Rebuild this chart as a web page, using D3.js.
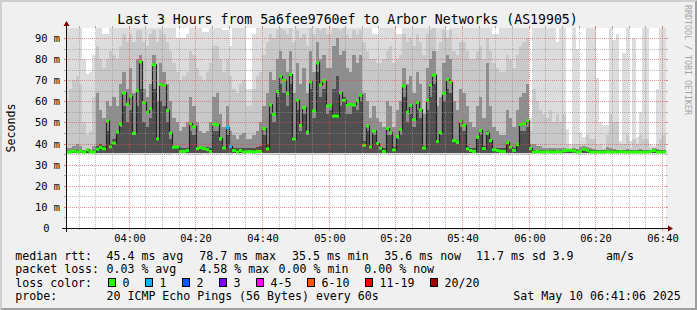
<!DOCTYPE html>
<html>
<head>
<meta charset="utf-8">
<script src="https://cdn.jsdelivr.net/npm/d3@7"></script>
<style>
  body { margin: 0; background: #f0f0f0; }
  svg { display: block; }
  text { font-family: "DejaVu Sans Mono", monospace; fill: #000; white-space: pre; }
</style>
</head>
<body>
<svg id="chart"></svg>
<script>
"use strict";

// One value per minute, starting 03:41 (ms)
const median = [
  36, 36, 36.4, 36, 36.4, 36, 37, 36, 36, 37.3,
  38.2, 37.5, 50.6, 38.5, 40.2, 45.4, 49.2, 64, 58.6, 62.4,
  44.8, 65, 78.7, 59.4, 54.8, 56.5, 77.3, 42.2, 68, 67.6,
  55.7, 44.9, 38.3, 38.3, 36.3, 36.3, 36.7, 49.4, 47.9, 37.6,
  38.1, 37.6, 37.1, 36.3, 49.2, 48.9, 42.4, 37.9, 47.5, 38.6,
  36.7, 36, 36.7, 36, 36.2, 36.2, 36, 36.3, 36.3, 47.1,
  37.5, 58.3, 53.8, 64.6, 71.9, 70, 63.7, 72.7, 42.2, 60.5,
  48.6, 57, 45.4, 69.2, 55.4, 78.2, 67.8, 69.7, 57.8, 58.1,
  53, 53, 64, 60.5, 58.1, 58.6, 58.3, 60.2, 62.9, 39.2,
  48.3, 38.4, 45.9, 40, 37.9, 36.3, 47.1, 45.1, 37, 43.3,
  46.7, 67.3, 54.8, 58.1, 51.4, 59.5, 56, 37.9, 60.5, 67.6,
  72.4, 41, 45.2, 63.8, 70.3, 69, 41.4, 40.8, 50.6, 48.6,
  37.5, 36.7, 36.3, 43, 46.2, 37.6, 44.8, 41.4, 37.1, 36.7,
  36.3, 36.3, 40.5, 38.3, 36.8, 39.5, 49, 49.4, 50.8, 37.6,
  36, 36.3, 36, 36, 36.2, 36, 36, 36.3, 36, 36.6,
  36.8, 36.8, 36.5, 36, 36.3, 37.3, 36.8, 36, 36, 36,
  36, 36, 36.2, 36, 36, 36, 36.3, 36, 36, 36,
  36, 36, 36, 36, 36, 36.3, 36.7, 36, 36, 36
];

// pings lost out of 20
const lossPings = [
  0, 0, 0, 0, 0, 0, 0, 0, 0, 0,
  0, 0, 0, 0, 0, 0, 0, 0, 0, 0,
  0, 0, 0, 0, 0, 0, 0, 0, 0, 0,
  0, 0, 0, 0, 0, 0, 0, 0, 0, 0,
  0, 0, 0, 0, 0, 0, 0, 0, 1, 1,
  0, 0, 0, 0, 0, 0, 0, 0, 0, 0,
  0, 0, 0, 0, 0, 0, 0, 0, 0, 0,
  0, 0, 0, 0, 0, 0, 0, 0, 0, 0,
  0, 0, 0, 0, 0, 0, 0, 0, 0, 0,
  0, 0, 0, 0, 0, 0, 0, 0, 0, 0,
  0, 0, 0, 0, 0, 0, 0, 0, 0, 0,
  0, 0, 0, 0, 0, 0, 0, 0, 0, 0,
  0, 0, 0, 0, 0, 0, 0, 0, 0, 0,
  0, 0, 0, 0, 0, 0, 0, 0, 0, 0,
  0, 0, 0, 0, 0, 0, 0, 0, 0, 0,
  0, 0, 0, 0, 0, 0, 0, 0, 0, 0,
  0, 0, 0, 0, 0, 0, 0, 0, 0, 0,
  0, 0, 0, 0, 0, 0, 0, 0, 0, 0
];

// smoke: lowest ping, then upper levels from lightest (max) to darkest
const smokeLow = [
  35.2, 35.2, 35.0, 35.2, 35.0, 35.2, 35.0, 35.2, 35.2, 34.8,
  34.8, 34.6, 34.6, 34.8, 34.6, 34.6, 34.4, 34.6, 34.6, 34.4,
  34.6, 34.6, 34.4, 34.6, 34.6, 34.4, 34.6, 34.6, 34.4, 34.6,
  34.6, 34.8, 35.0, 34.8, 35.0, 35.0, 34.8, 34.6, 34.6, 34.8,
  34.8, 35.0, 34.8, 35.0, 34.6, 34.6, 34.8, 35.0, 34.4, 34.6,
  35.0, 35.0, 34.8, 35.0, 35.0, 35.0, 35.0, 34.8, 34.8, 34.6,
  34.6, 34.4, 34.6, 34.4, 34.4, 34.6, 34.4, 34.4, 34.6, 34.4,
  34.6, 34.4, 34.6, 34.4, 34.6, 34.4, 34.4, 34.6, 34.4, 34.6,
  34.4, 34.4, 34.6, 34.4, 34.6, 34.6, 34.4, 34.6, 34.4, 34.6,
  34.6, 34.8, 34.6, 34.8, 34.8, 35.0, 34.6, 34.6, 34.8, 34.6,
  34.6, 34.4, 34.6, 34.4, 34.6, 34.4, 34.6, 34.8, 34.4, 34.4,
  34.4, 34.8, 34.6, 34.4, 34.4, 34.4, 34.8, 34.8, 34.6, 34.6,
  34.8, 35.0, 35.0, 34.6, 34.6, 34.8, 34.6, 34.8, 35.0, 35.0,
  35.0, 35.0, 34.8, 34.8, 35.0, 34.8, 34.6, 34.6, 34.6, 35.0,
  35.2, 35.2, 35.2, 35.0, 35.2, 35.2, 35.0, 35.2, 35.2, 35.0,
  35.0, 35.2, 35.2, 35.0, 34.8, 34.8, 35.0, 35.2, 35.2, 35.2,
  35.2, 35.2, 35.0, 35.0, 35.2, 35.2, 35.2, 35.2, 35.0, 35.2,
  35.2, 35.2, 35.0, 35.2, 35.2, 35.0, 34.8, 35.0, 35.2, 35.2
];

const smokeTop = [
  100, 100, 100, 100, 100, 80, 73, 74, 82, 100,
  100, 92, 92, 100, 100, 100, 100, 100, 100, 100,
  100, 100, 100, 100, 100, 100, 100, 100, 100, 100,
  100, 100, 100, 90, 90, 90, 92, 100, 100, 100,
  100, 93, 93, 100, 100, 100, 100, 94, 94, 86,
  100, 100, 100, 100, 66, 66, 92, 100, 100, 100,
  100, 100, 100, 100, 100, 100, 100, 100, 100, 100,
  100, 100, 100, 100, 100, 100, 100, 100, 100, 100,
  100, 100, 100, 100, 100, 100, 100, 100, 100, 100,
  100, 100, 92, 92, 100, 100, 100, 100, 100, 92,
  92, 100, 100, 100, 100, 100, 100, 100, 100, 100,
  100, 100, 100, 100, 94, 100, 100, 100, 100, 100,
  100, 100, 100, 100, 100, 100, 100, 100, 92, 92,
  100, 100, 100, 100, 100, 100, 95, 95, 95, 52,
  100, 100, 100, 100, 100, 100, 100, 88, 100, 100,
  47, 40, 100, 85, 45, 43, 100, 100, 100, 71,
  50, 49, 49, 100, 89, 92, 41, 83, 100, 41,
  90, 43, 55, 100, 100, 40, 39, 66, 100, 100
];

const smokeUp = [
  60, 66, 70, 72, 68, 50, 44, 46, 62, 86,
  80, 76, 80, 84, 82, 80, 86, 92, 88, 92,
  88, 94, 94, 88, 86, 92, 94, 88, 94, 92,
  88, 84, 78, 74, 70, 72, 74, 84, 82, 76,
  72, 70, 74, 78, 86, 86, 80, 74, 80, 72,
  66, 64, 68, 70, 58, 58, 66, 72, 74, 82,
  88, 92, 90, 94, 95, 94, 92, 95, 88, 94,
  90, 92, 86, 95, 92, 95, 94, 95, 92, 92,
  95, 95, 94, 95, 92, 90, 94, 92, 94, 88,
  84, 80, 80, 78, 78, 80, 84, 86, 78, 80,
  82, 92, 88, 90, 86, 92, 88, 82, 92, 94,
  95, 84, 88, 94, 90, 94, 84, 82, 88, 88,
  84, 80, 80, 84, 86, 80, 90, 84, 78, 76,
  74, 74, 82, 80, 76, 82, 86, 88, 90, 46,
  66, 60, 56, 54, 52, 56, 50, 54, 50, 54,
  40, 38, 40, 40, 40, 40, 44, 42, 42, 40,
  40, 38, 44, 54, 50, 50, 40, 40, 44, 38,
  42, 40, 44, 42, 42, 38, 38, 40, 42, 44
];

const smokeMid = [
  38, 38, 39, 40, 39, 37, 37, 37, 39, 64,
  56, 52, 60, 58, 62, 58, 68, 74, 66, 76,
  64, 80, 82, 66, 62, 68, 82, 60, 78, 74,
  68, 60, 52, 50, 46, 48, 50, 62, 58, 50,
  46, 45, 46, 50, 62, 64, 54, 48, 58, 46,
  44, 42, 44, 45, 42, 42, 44, 46, 50, 58,
  64, 74, 70, 80, 84, 80, 74, 84, 64, 78,
  68, 76, 64, 84, 74, 88, 80, 82, 76, 76,
  86, 90, 82, 84, 76, 74, 82, 78, 82, 64,
  60, 52, 58, 52, 50, 48, 60, 58, 48, 56,
  60, 76, 68, 72, 64, 74, 68, 54, 76, 80,
  84, 58, 62, 78, 82, 80, 60, 56, 66, 64,
  58, 50, 48, 58, 62, 52, 78, 58, 48, 46,
  44, 44, 56, 52, 48, 56, 62, 64, 68, 40,
  40, 39, 39, 38, 38, 38, 38, 38, 38, 38,
  37.5, 37, 38, 37.5, 38.5, 39, 38.5, 38, 37.5, 37,
  37, 37, 38.5, 38, 37.5, 37, 37, 37, 37.5, 37,
  37, 37, 37.5, 37, 37, 37, 38, 37.5, 37, 37
];

const smokeCore = [
  36.5, 36.5, 37, 37, 37, 36.5, 36.5, 36.5, 37, 39,
  40, 39, 46, 40, 42, 46, 48, 58, 50, 56,
  44, 58, 66, 50, 48, 52, 66, 42, 60, 58,
  50, 42, 39, 39, 38, 38, 38, 46, 44, 38.5,
  38.5, 38.5, 38.5, 38, 46, 46, 41, 38.5, 44, 39,
  38, 38, 38, 38, 38, 38, 38, 38.5, 39, 44,
  40, 54, 50, 62, 68, 64, 58, 68, 43, 56,
  46, 54, 44, 66, 52, 74, 62, 66, 54, 56,
  66, 72, 58, 62, 54, 54, 58, 56, 60, 41,
  46, 39, 44, 40, 39, 38, 44, 44, 38.5, 42,
  44, 62, 50, 54, 48, 56, 52, 39, 56, 62,
  68, 41, 44, 60, 66, 64, 41, 40, 48, 46,
  39, 38, 38, 42, 44, 39, 46, 41, 38, 38,
  38, 38, 40, 39, 38, 39, 46, 46, 48, 37,
  37, 37, 37, 36.8, 36.8, 36.8, 36.8, 36.8, 36.8, 36.8,
  36.8, 36.8, 37, 36.8, 37, 37.2, 37, 36.8, 36.8, 36.8,
  36.8, 36.8, 37, 36.8, 36.8, 36.8, 36.8, 36.8, 36.8, 36.8,
  36.8, 36.8, 36.8, 36.8, 36.8, 36.8, 37, 36.8, 36.8, 36.8
];

const yTicks = [0, 10, 20, 30, 40, 50, 60, 70, 80, 90];
const lossLabels = ["0", "1", "2", "3", "4-5", "6-10", "11-19", "20/20"];
const lossColors = ["#26ff00", "#00b8ff", "#0059ff", "#7e00ff", "#ff00ff", "#ff5500", "#ff0000", "#a10000"];

const statLines = [
  ["median rtt:", "45.4 ms avg", "78.7 ms max", "35.5 ms min", "35.6 ms now", "11.7 ms sd", "3.9", "am/s"],
  ["packet loss:", "0.03 % avg", "4.58 % max", "0.00 % min", "0.00 % now"],
  ["probe:", "20 ICMP Echo Pings (56 Bytes) every 60s"]
];

// ---------------------------------------------------------------- layout
const WIDTH = 697, HEIGHT = 310;
const plot = {left: 66, right: 666, top: 28, bottom: 228};
const INNER_FLOOR = 35.6;

const t_start = new Date(2025, 4, 10, 3, 41, 6);
const t_end = new Date(2025, 4, 10, 6, 41, 6);
const first_step = new Date(2025, 4, 10, 3, 41, 0);
const STEP = 60 * 1000;

const x_scale = d3.scaleTime().domain([t_start, t_end]).range([plot.left, plot.right]).clamp(true);
const y_scale = d3.scaleLinear().domain([0, 94.75]).range([plot.bottom, plot.top]).clamp(true);

function loss_class(n) {
    if (n <= 3) return n;
    if (n <= 5) return 4;
    if (n <= 10) return 5;
    if (n <= 19) return 6;
    return 7;
}

// pixel snapped column edges so neighbouring steps never leave a gap
function col_x(d) { return Math.round(x_scale(d.t0)); }
function col_w(d) { return Math.round(x_scale(d.t1)) - Math.round(x_scale(d.t0)); }

const steps = median.map(function (m, i) {
    return {
        t0: new Date(+first_step + i * STEP),
        t1: new Date(+first_step + (i + 1) * STEP),
        med: m, low: smokeLow[i], top: smokeTop[i], up: smokeUp[i],
        mid: smokeMid[i], core: smokeCore[i], loss: lossPings[i]
    };
});

const svg = d3.select("#chart").attr("width", WIDTH).attr("height", HEIGHT);

// background + 3d frame
svg.append("rect").attr("width", WIDTH).attr("height", HEIGHT).attr("fill", "#f0f0f0");
svg.append("path")
    .attr("d", "M0,0 L697,0 L695,2 L2,2 L2,308 L0,310 Z")
    .attr("fill", "#cfcfcf");
svg.append("path")
    .attr("d", "M697,0 L697,310 L0,310 L2,308 L695,308 L695,2 Z")
    .attr("fill", "#9e9e9e");

// canvas
svg.append("rect")
    .attr("x", plot.left).attr("y", plot.top)
    .attr("width", plot.right - plot.left).attr("height", plot.bottom - plot.top)
    .attr("fill", "#ffffff");

// smoke layers, lightest first
const layers = [
    {key: "top",  color: "#dcdcdc", floor: function (d) { return d.low; }},
    {key: "up",   color: "#c8c8c8", floor: function (d) { return Math.max(d.low, INNER_FLOOR); }},
    {key: "mid",  color: "#8e8e8e", floor: function (d) { return Math.max(d.low, INNER_FLOOR); }},
    {key: "core", color: "#505050", floor: function (d) { return Math.max(d.low, INNER_FLOOR); }}
];

layers.forEach(function (layer) {
    svg.append("g")
        .attr("shape-rendering", "crispEdges")
        .selectAll("rect")
        .data(steps)
        .join("rect")
        .attr("x", col_x)
        .attr("width", col_w)
        .attr("y", function (d) { return Math.round(y_scale(d[layer.key])); })
        .attr("height", function (d) {
            return Math.max(0, Math.round(y_scale(layer.floor(d))) - Math.round(y_scale(d[layer.key])));
        })
        .attr("fill", layer.color);
});

// median: dark step line, then loss coloured bars on top
const median_line = d3.line()
    .curve(d3.curveStepAfter)
    .x(function (d) { return Math.round(x_scale(d.t)) + 0.5; })
    .y(function (d) { return y_scale(d.v); });

const median_points = steps.map(function (d) { return {t: d.t0, v: d.med}; });
median_points.push({t: steps[steps.length - 1].t1, v: median[median.length - 1]});

svg.append("path")
    .datum(median_points)
    .attr("d", median_line)
    .attr("fill", "none")
    .attr("stroke", "#202020")
    .attr("stroke-width", 1.2);

svg.append("g")
    .selectAll("rect")
    .data(steps)
    .join("rect")
    .attr("x", col_x)
    .attr("width", col_w)
    .attr("y", function (d) { return y_scale(d.med) - 1.5; })
    .attr("height", 3)
    .attr("fill", function (d) { return lossColors[loss_class(d.loss)]; });

// grid (drawn over the graph, rrdtool style: dotted line plus short solid ends)
const grid = svg.append("g");

function h_grid(values, color) {
    values.forEach(function (v) {
        const y = Math.round(y_scale(v)) + 0.5;
        grid.append("line")
            .attr("x1", plot.left - 2).attr("x2", plot.right + 2)
            .attr("y1", y).attr("y2", y)
            .attr("stroke", color)
            .attr("stroke-dasharray", "1,1");
        grid.append("line")
            .attr("x1", plot.left - 2).attr("x2", plot.left)
            .attr("y1", y).attr("y2", y)
            .attr("stroke", color);
        grid.append("line")
            .attr("x1", plot.right).attr("x2", plot.right + 2)
            .attr("y1", y).attr("y2", y)
            .attr("stroke", color);
    });
}

function v_grid(times, color, tick) {
    times.forEach(function (t) {
        const x = Math.floor(x_scale(t)) + 0.5;
        grid.append("line")
            .attr("x1", x).attr("x2", x)
            .attr("y1", plot.top - 2).attr("y2", plot.bottom)
            .attr("stroke", color)
            .attr("stroke-dasharray", "1,1");
        grid.append("line")
            .attr("x1", x).attr("x2", x)
            .attr("y1", plot.bottom).attr("y2", plot.bottom + tick)
            .attr("stroke", color);
        grid.append("line")
            .attr("x1", x).attr("x2", x)
            .attr("y1", plot.top - 2).attr("y2", plot.top)
            .attr("stroke", color);
    });
}

const minor_y = d3.range(5, 95, 10);
const major_y = yTicks.filter(function (v) { return v > 0; });
const minor_t = d3.timeMinute.every(5).range(t_start, t_end)
    .filter(function (t) { return t.getMinutes() % 20 !== 0; });
const major_t = d3.timeMinute.every(20).range(t_start, t_end);

h_grid(minor_y, "rgba(143,143,143,0.6)");
v_grid(minor_t, "rgba(143,143,143,0.6)", 2);
h_grid(major_y, "rgba(222,80,80,0.6)");
v_grid(major_t, "rgba(222,80,80,0.6)", 3);

// axes
const axis = svg.append("g").attr("shape-rendering", "crispEdges");
axis.append("line")
    .attr("x1", plot.left - 4).attr("x2", plot.right + 4)
    .attr("y1", plot.bottom + 0.5).attr("y2", plot.bottom + 0.5)
    .attr("stroke", "#101010");
axis.append("line")
    .attr("x1", plot.left + 0.5).attr("x2", plot.left + 0.5)
    .attr("y1", plot.bottom + 4).attr("y2", plot.top - 4)
    .attr("stroke", "#101010");

svg.append("path")
    .attr("d", "M" + (plot.right + 2) + "," + (plot.bottom - 2.5) +
               "L" + (plot.right + 2) + "," + (plot.bottom + 3.5) +
               "L" + (plot.right + 7) + "," + (plot.bottom + 0.5) + "Z")
    .attr("fill", "#7f0000");
svg.append("path")
    .attr("d", "M" + (plot.left - 2.5) + "," + (plot.top - 2) +
               "L" + (plot.left + 3.5) + "," + (plot.top - 2) +
               "L" + (plot.left + 0.5) + "," + (plot.top - 7) + "Z")
    .attr("fill", "#7f0000");

// tick labels
svg.append("g")
    .selectAll("text")
    .data(yTicks)
    .join("text")
    .attr("x", function (d) { return d === 0 ? 49.5 : 60; })
    .attr("y", function (d) { return Math.round(y_scale(d)) + 3.8; })
    .attr("text-anchor", "end")
    .style("font-size", "10.4px")
    .text(function (d) { return d === 0 ? "0" : d + " m"; });

const time_format = d3.timeFormat("%H:%M");
svg.append("g")
    .selectAll("text")
    .data(major_t)
    .join("text")
    .attr("x", function (d) { return Math.floor(x_scale(d)) + 1; })
    .attr("y", 242)
    .attr("text-anchor", "middle")
    .style("font-size", "10.4px")
    .text(function (d) { return time_format(d); });

// title, unit, watermark
svg.append("text")
    .attr("x", 347.5).attr("y", 24)
    .attr("text-anchor", "middle")
    .style("font-size", "13.2px")
    .text("Last 3 Hours from 5a6fee9760ef to Arbor Networks (AS19905)");

svg.append("text")
    .attr("transform", "translate(14.5,128) rotate(-90)")
    .attr("text-anchor", "middle")
    .style("font-size", "11.6px")
    .text("Seconds");

svg.append("text")
    .attr("transform", "translate(684.5,5) rotate(90)")
    .style("font-size", "8.3px")
    .style("fill", "#a4a4a4")
    .text("RRDTOOL / TOBI OETIKER");

// legend
const LEGEND_FONT = "11.6px";
const stat_x = [
    [15.3, 106.5, 199.3, 292, 384.3, 476, 552.6, 606],
    [15.3, 106.5, 199.3, 278.6, 364.3],
    [15.3, 106.5]
];
const stat_y = [259.5, 273, 300.3];

statLines.forEach(function (line, li) {
    line.forEach(function (s, si) {
        svg.append("text")
            .attr("x", stat_x[li][si]).attr("y", stat_y[li])
            .style("font-size", LEGEND_FONT)
            .text(s);
    });
});

svg.append("text")
    .attr("x", 680.8).attr("y", 300.3)
    .attr("text-anchor", "end")
    .style("font-size", LEGEND_FONT)
    .text("Sat May 10 06:41:06 2025");

svg.append("text")
    .attr("x", 15.3).attr("y", 286.8)
    .style("font-size", LEGEND_FONT)
    .text("loss color:");

const box_x = [108.5, 145.5, 182.5, 219.5, 256.5, 307.5, 365.5, 430.5];
const legend = svg.append("g");
lossLabels.forEach(function (label, i) {
    legend.append("rect")
        .attr("x", box_x[i]).attr("y", 278.5)
        .attr("width", 7).attr("height", 8)
        .attr("fill", lossColors[i])
        .attr("stroke", "#000");
    legend.append("text")
        .attr("x", box_x[i] + 14).attr("y", 286.8)
        .style("font-size", LEGEND_FONT)
        .text(label);
});
</script>
</body>
</html>
